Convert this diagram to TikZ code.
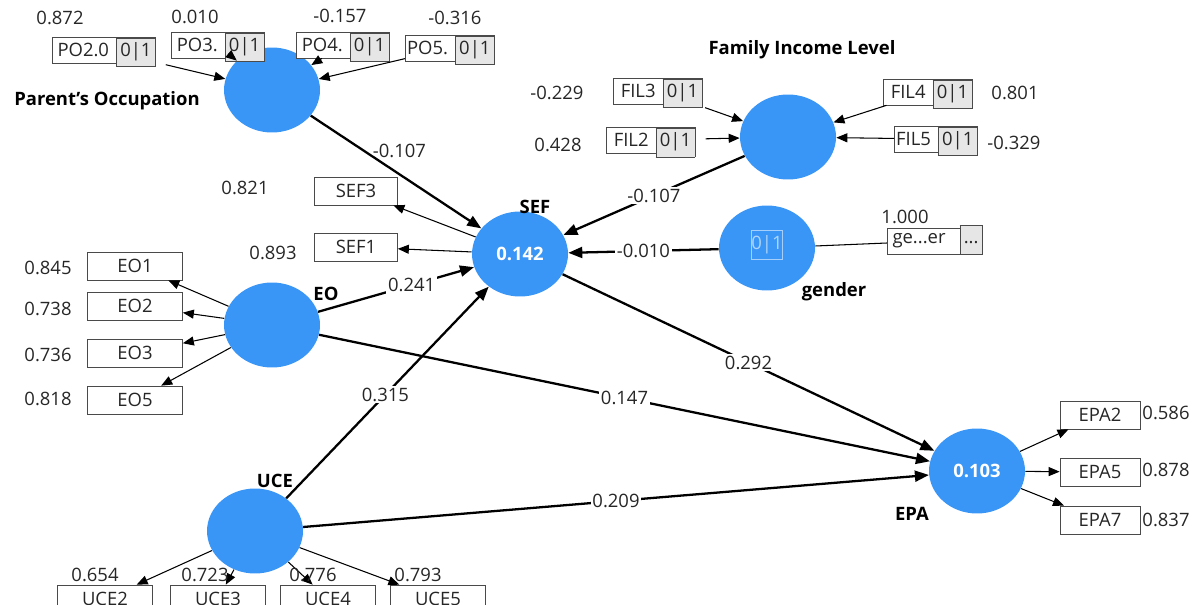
\documentclass[tikz,border=0pt]{standalone}
\usepackage{fontspec}
\setmainfont{Open Sans}
\usetikzlibrary{arrows.meta,positioning,shapes.geometric}
\definecolor{lvblue}{HTML}{3A96F6}
\definecolor{boxline}{HTML}{4A4A4A}
\definecolor{subfill}{HTML}{E6E6E6}
\definecolor{txt}{HTML}{262626}
\newcommand{\subbox}[1]{\smash{\setlength{\fboxsep}{2pt}\fcolorbox{boxline}{subfill}{\strut #1}}}

\begin{document}
\begin{tikzpicture}[x=0.02cm,y=-0.02cm,font=\fontsize{10.5}{12}\selectfont,
    lv/.style={ellipse,fill=lvblue,minimum width=1.92cm,minimum height=1.7cm,inner sep=0pt,text=white,font=\fontsize{10.5}{12}\selectfont\bfseries},
    lvname/.style={text=black,font=\fontsize{10.5}{12}\selectfont\bfseries},
    refl/.style={draw=boxline,fill=white,text=txt,minimum width=1.9cm,minimum height=0.56cm,inner sep=0pt},
    form/.style={draw=boxline,fill=white,text=txt,minimum height=0.52cm,inner xsep=0pt,inner ysep=0pt},
    val/.style={text=txt,inner sep=1pt},
    pl/.style={fill=white,text=txt,inner sep=1pt},
    sa/.style={draw=black,line width=1.3pt,-{Triangle[length=2.8mm,width=2.2mm]}},
    ia/.style={draw=black,line width=0.6pt,-{Triangle[length=2.2mm,width=1.8mm]}}]
  \useasboundingbox (0,0) rectangle (1194,605);
  \clip (0,0) rectangle (1194,605);

  % latent variables
  \node[lv] (PO) at (272,90) {};
  \node[lv] (FIL) at (788,137) {};
  \node[lv] (SEF) at (520,254) {0.142};
  \node[lv] (gen) at (767,248) {};
  \node[lv] (EO) at (272,325) {};
  \node[lv] (UCE) at (255,531) {};
  \node[lv] (EPA) at (977,471) {0.103};
  \node[draw=white!55!lvblue,text=white!60!lvblue,minimum size=0.58cm,inner sep=0pt] (genzo) at (767,245) {0|1};

  \node[lvname] (nPO) at (107,101) {Parent's Occupation};
  \node[lvname] (nFIL) at (802,50) {Family Income Level};
  \node[lvname] (nSEF) at (535,207) {SEF};
  \node[lvname] (nEO) at (326,294) {EO};
  \node[lvname] (ngen) at (834,292) {gender};
  \node[lvname] (nUCE) at (275,481) {UCE};
  \node[lvname] (nEPA) at (912,514) {EPA};

  % parent's occupation (formative)
  \node[form] (po20) at (104,50) {\hspace{3pt}PO2.0\hspace{4pt}\subbox{0|1}};
  \node[form] (po3) at (218,45) {\hspace{3pt}PO3.\hspace{4pt}\subbox{0|1}\hspace{6pt}};
  \node[form] (po4) at (343,45) {\hspace{3pt}PO4.\hspace{4pt}\subbox{0|1}\hspace{6pt}};
  \node[form] (po5) at (450,48) {\hspace{1pt}PO5.\hspace{4pt}\subbox{0|1}};
  \node[val] (vpo20) at (60,18) {0.872};
  \node[val] (vpo3) at (195,17) {0.010};
  \node[val] (vpo4) at (340,16) {-0.157};
  \node[val] (vpo5) at (455,18) {-0.316};
  \draw[ia,shorten <=2mm] (po20) -- (PO);
  \draw[ia] (po3) -- (PO);
  \draw[ia] (po4) -- (PO);
  \draw[ia] (po5) -- (PO);

  % family income level (formative)
  \node[form] (fil3) at (658,91) {\hspace{4pt}FIL3\hspace{4pt}\subbox{0|1}};
  \node[form] (fil2) at (651,140) {\hspace{4pt}FIL2\hspace{4pt}\subbox{0|1}};
  \node[form] (fil4) at (928,92) {\hspace{4pt}FIL4\hspace{4pt}\subbox{0|1}};
  \node[form] (fil5) at (936,139) {\hspace{1pt}FIL5\hspace{4pt}\subbox{0|1}};
  \node[val] (vfil3) at (557,93) {-0.229};
  \node[val] (vfil2) at (558,145) {0.428};
  \node[val] (vfil4) at (1015,93) {0.801};
  \node[val] (vfil5) at (1014,143) {-0.329};
  \draw[ia,shorten <=2mm] (fil3) -- (FIL);
  \draw[ia,shorten <=2mm] (fil2) -- (FIL);
  \draw[ia] (fil4) -- (FIL);
  \draw[ia] (fil5) -- (FIL);

  % gender
  \node[form] (gbox) at (935,241) {\hspace{3pt}ge...er\hspace{8pt}\subbox{...}};
  \node[val] (vgen) at (905,217) {1.000};
  \draw[draw=black,line width=0.6pt] (gen) -- (gbox);

  % SEF indicators
  \node[refl,minimum width=1.66cm] (sef3) at (356,191) {SEF3};
  \node[refl,minimum width=1.66cm] (sef1) at (356,247) {SEF1};
  \node[val] (vsef3) at (245,188) {0.821};
  \node[val] (vsef1) at (273,253) {0.893};
  \draw[ia] (SEF) -- (sef3);
  \draw[ia] (SEF) -- (sef1);

  % EO indicators
  \node[refl] (eo1) at (135,266) {EO1};
  \node[refl] (eo2) at (135,306) {EO2};
  \node[refl] (eo3) at (135,353) {EO3};
  \node[refl] (eo5) at (135,400) {EO5};
  \node[val] (veo1) at (48,268) {0.845};
  \node[val] (veo2) at (48,309) {0.738};
  \node[val] (veo3) at (48,355) {0.736};
  \node[val] (veo5) at (48,399) {0.818};
  \draw[ia] (EO) -- (eo1);
  \draw[ia] (EO) -- (eo2);
  \draw[ia] (EO) -- (eo3);
  \draw[ia] (EO) -- (eo5);

  % EPA indicators
  \node[refl,minimum width=1.6cm] (epa2) at (1100,415) {EPA2};
  \node[refl,minimum width=1.6cm] (epa5) at (1100,472) {EPA5};
  \node[refl,minimum width=1.6cm] (epa7) at (1100,520) {EPA7};
  \node[val] (vepa2) at (1166,413) {0.586};
  \node[val] (vepa5) at (1166,470) {0.878};
  \node[val] (vepa7) at (1166,520) {0.837};
  \draw[ia] (EPA) -- (epa2);
  \draw[ia] (EPA) -- (epa5);
  \draw[ia] (EPA) -- (epa7);

  % UCE indicators
  \node[refl] (uce2) at (105,599) {UCE2};
  \node[refl] (uce3) at (218,599) {UCE3};
  \node[refl] (uce4) at (328,599) {UCE4};
  \node[refl] (uce5) at (438,599) {UCE5};
  \draw[ia] (UCE) -- (uce2);
  \draw[ia] (UCE) -- (uce3);
  \draw[ia] (UCE) -- (uce4);
  \draw[ia] (UCE) -- (uce5);
  \node[val] (vuce2) at (95,575) {0.654};
  \node[val] (vuce3) at (205,575) {0.723};
  \node[val] (vuce4) at (313,575) {0.776};
  \node[val] (vuce5) at (418,575) {0.793};

  % structural paths
  \draw[sa] (PO) -- node[pl,fill=none,pos=0.52,above=8pt] {-0.107} (SEF);
  \draw[sa] (FIL) -- node[pl,pos=0.5] {-0.107} (SEF);
  \draw[sa] (gen) -- node[pl,pos=0.5] {-0.010} (SEF);
  \draw[sa] (EO) -- node[pl,pos=0.6] {0.241} (SEF);
  \draw[sa] (UCE) -- node[pl,pos=0.49] {0.315} (SEF);
  \draw[sa] (SEF) -- node[pl,pos=0.5] {0.292} (EPA);
  \draw[sa] (EO) -- node[pl,pos=0.5] {0.147} (EPA);
  \draw[sa] (UCE) -- node[pl,pos=0.5] {0.209} (EPA);
\end{tikzpicture}
\end{document}
